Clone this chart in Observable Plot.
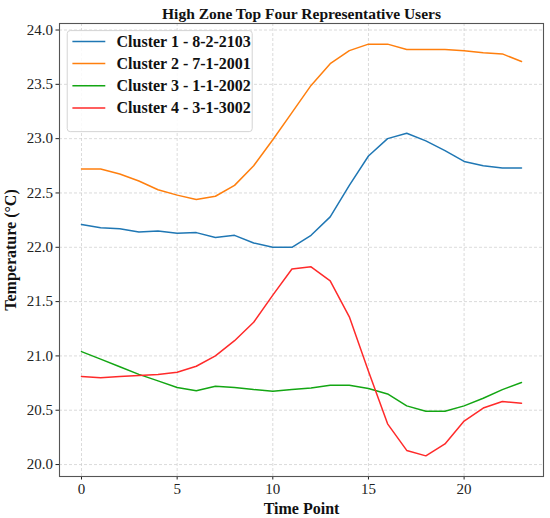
<!DOCTYPE html>
<html>
<head>
<meta charset="utf-8">
<script src="https://cdn.jsdelivr.net/npm/d3@7"></script>
<script src="https://cdn.jsdelivr.net/npm/@observablehq/plot@0.6"></script>
<style>
  html, body { margin: 0; padding: 0; background: #fff; }
  svg { font-family: "Liberation Serif", "DejaVu Serif", serif; }
</style>
</head>
<body>
<div id="chart"></div>
<script>
const title = "High Zone Top Four Representative Users";
const timePoints = d3.range(24);
const seriesNames = ["Cluster 1 - 8-2-2103", "Cluster 2 - 7-1-2001", "Cluster 3 - 1-1-2002", "Cluster 4 - 3-1-3002"];
const seriesColors = ["#1f77b4", "#ff7f0e", "#13a613", "#ff2a2a"];
const cluster1 = [22.21, 22.18, 22.17, 22.14, 22.15, 22.13, 22.135, 22.09, 22.11, 22.04, 22.00, 22.00,
                  22.11, 22.28, 22.57, 22.84, 23.00, 23.05, 22.98, 22.89, 22.79, 22.75, 22.73, 22.73];
const cluster2 = [22.72, 22.72, 22.675, 22.61, 22.53, 22.48, 22.44, 22.47, 22.57, 22.75, 22.99, 23.24,
                  23.49, 23.69, 23.81, 23.87, 23.87, 23.82, 23.82, 23.82, 23.81, 23.79, 23.78, 23.71];
const cluster3 = [21.04, 20.97, 20.90, 20.83, 20.77, 20.71, 20.68, 20.72, 20.71, 20.69, 20.675, 20.69,
                  20.705, 20.73, 20.73, 20.70, 20.65, 20.54, 20.49, 20.49, 20.54, 20.61, 20.69, 20.755];
const cluster4 = [20.81, 20.80, 20.81, 20.82, 20.83, 20.85, 20.905, 21.00, 21.14, 21.31, 21.56, 21.80,
                  21.82, 21.69, 21.36, 20.86, 20.375, 20.13, 20.08, 20.19, 20.40, 20.52, 20.58, 20.565];
const yTicks = [20.0, 20.5, 21.0, 21.5, 22.0, 22.5, 23.0, 23.5, 24.0];
const xTicks = [0, 5, 10, 15, 20];

const allSeries = [cluster1, cluster2, cluster3, cluster4];
const rows = [];
allSeries.forEach((vals, i) => vals.forEach((v, t) => rows.push({t: timePoints[t], v, s: seriesNames[i]})));

const legendRows = seriesNames.map((name, i) => ({name, i}));

const W = 550, H = 518;
const mL = 59, mR = 7, mT = 23, mB = 42;

const plot = Plot.plot({
  width: W,
  height: H,
  marginLeft: mL,
  marginRight: mR,
  marginTop: mT,
  marginBottom: mB,
  style: {fontFamily: "Liberation Serif, serif", fontSize: "15px", background: "#fff", color: "#222"},
  x: {domain: [-1.15, 24.15], label: null},
  y: {domain: [19.89, 24.06], label: null},
  color: {domain: seriesNames, range: seriesColors},
  marks: [
    Plot.gridX(xTicks, {stroke: "#cccccc", strokeOpacity: 1, strokeDasharray: "3,2", strokeWidth: 0.7}),
    Plot.gridY(yTicks, {stroke: "#cccccc", strokeOpacity: 1, strokeDasharray: "3,2", strokeWidth: 0.7}),
    Plot.axisX({ticks: xTicks, tickFormat: d => d, tickSize: 3.5, tickPadding: 3, fontSize: 15, label: null}),
    Plot.axisY({ticks: yTicks, tickFormat: d => d.toFixed(1), tickSize: 3.5, tickPadding: 3, fontSize: 15, label: null}),
    Plot.line(rows, {x: "t", y: "v", z: "s", stroke: "s", strokeWidth: 1.5}),
    Plot.frame({stroke: "#555", strokeWidth: 1.1}),
    // legend box
    Plot.rect([0], {x1: () => -0.72, x2: () => 8.95, y1: () => 23.06, y2: () => 23.99,
      fill: "white", fillOpacity: 0.85, stroke: "#d4d4d4", strokeWidth: 1, rx: 3}),
    Plot.ruleY(legendRows, {
      x1: () => -0.45, x2: () => 1.27,
      y: d => 23.895 - d.i * 0.204,
      stroke: d => seriesColors[d.i], strokeWidth: 1.5
    }),
    Plot.text(legendRows, {
      x: () => 1.83, y: d => 23.895 - d.i * 0.204, text: "name",
      textAnchor: "start", fontWeight: "bold", fontSize: 16, fill: "#111"
    }),
    Plot.text([title], {frameAnchor: "top", dy: -16, text: d => d, fontWeight: "bold", fontSize: 15.5, fill: "#111"}),
    Plot.text(["Time Point"], {frameAnchor: "bottom", dy: 37, text: d => d, fontWeight: "bold", fontSize: 16, fill: "#111"}),
    Plot.text(["Temperature (°C)"], {frameAnchor: "left", dx: -49, rotate: -90, textAnchor: "middle", lineAnchor: "middle", text: d => d, fontWeight: "bold", fontSize: 16, fill: "#111"})
  ]
});
document.getElementById("chart").appendChild(plot);
</script>
</body>
</html>
